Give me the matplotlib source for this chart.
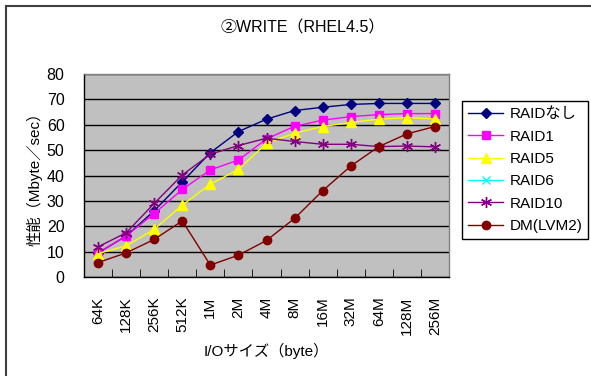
import matplotlib
matplotlib.use("Agg")
import matplotlib.pyplot as plt
from matplotlib.lines import Line2D

plt.rcParams['font.family'] = ['Liberation Sans', 'Noto Sans CJK JP', 'DejaVu Sans']

categories = ["64K", "128K", "256K", "512K", "1M", "2M", "4M", "8M", "16M", "32M", "64M", "128M", "256M"]
raid_none = [9.5, 16.1, 26.1, 37.5, 49.0, 57.3, 62.2, 65.6, 66.9, 68.0, 68.4, 68.4, 68.4]
raid1 = [9.5, 16.2, 25.0, 34.5, 42.2, 46.1, 54.4, 59.4, 61.8, 63.2, 64.0, 64.4, 64.4]
raid5 = [9.2, 12.3, 18.8, 28.3, 36.6, 42.4, 52.7, 56.7, 59.3, 60.9, 62.2, 62.8, 62.3]
raid6 = []
raid10 = [11.9, 17.4, 29.0, 40.2, 48.4, 51.8, 54.7, 53.4, 52.3, 52.3, 51.4, 51.6, 51.3]
dm_lvm2 = [5.7, 9.5, 14.8, 22.1, 4.7, 8.6, 14.4, 23.1, 34.0, 43.7, 51.4, 56.4, 59.3]
yticks = [0, 10, 20, 30, 40, 50, 60, 70, 80]

W, H = 591, 376
fig = plt.figure(figsize=(W / 100, H / 100), dpi=100)
ax = fig.add_axes([84 / W, 1 - 277 / H, 365 / W, 203 / H])
ax.set_facecolor('#c0c0c0')
for s in ax.spines.values():
    s.set_color('#808080')
    s.set_linewidth(1.0)
ax.spines['bottom'].set_color('black')
ax.spines['left'].set_color('black')

x = list(range(len(categories)))
series = [
    ("RAIDなし", raid_none, '#000080', 'D', 5),
    ("RAID1", raid1, '#ff00ff', 's', 6),
    ("RAID5", raid5, '#ffff00', '^', 7),
    ("RAID6", raid6, '#00ffff', 'x', 6),
    ("RAID10", raid10, '#800080', (6, 2, 0), 8),
    ("DM(LVM2)", dm_lvm2, '#800000', 'o', 6),
]
for name, vals, col, mk, ms in series:
    xs = x[:len(vals)]
    ax.plot(xs, vals, color=col, marker=mk, markersize=ms, linewidth=1.0,
            markerfacecolor=col, markeredgecolor=col, markeredgewidth=1.0, label=name,
            zorder=3)

ax.set_xlim(-0.5, len(categories) - 0.5)
ax.set_ylim(0, 80)
ax.set_yticks(yticks)
ax.yaxis.grid(True, color='black', linewidth=1.0)
ax.set_axisbelow(True)
ax.set_xticks(x)
ax.set_xticklabels(categories, rotation=90, fontsize=11)
ax.tick_params(axis='x', length=0, pad=14)
ax.set_xticks([i + 0.5 for i in x[:-1]], minor=True)
ax.tick_params(axis='x', which='minor', direction='in', length=6, color='black')
ax.tick_params(axis='y', direction='out', length=0, pad=14, labelsize=11.5)

ax.set_ylabel("性能（Mbyte／sec）", fontsize=11, labelpad=3)
ax.set_xlabel("I/Oサイズ（byte）", fontsize=11, labelpad=6)

fig.text(303 / W, 1 - 28 / H, "②WRITE（RHEL4.5）", ha='center', va='center', fontsize=11.5)

leg = ax.legend(loc='upper left', bbox_to_anchor=(462 / W, 1 - 101 / H), bbox_transform=fig.transFigure,
                fontsize=11, frameon=True, fancybox=False, edgecolor='black', framealpha=1,
                borderpad=0.4, labelspacing=0.55, handlelength=2.3, handletextpad=0.4, borderaxespad=0)
leg.get_frame().set_linewidth(1.0)

fig.add_artist(Line2D([6 / W, 1], [1 - 6 / H, 1 - 6 / H], transform=fig.transFigure, color='#404040', linewidth=1.5))
fig.add_artist(Line2D([6 / W, 6 / W], [0, 1 - 6 / H], transform=fig.transFigure, color='#404040', linewidth=1.5))

fig.savefig("out.png", dpi=100)
